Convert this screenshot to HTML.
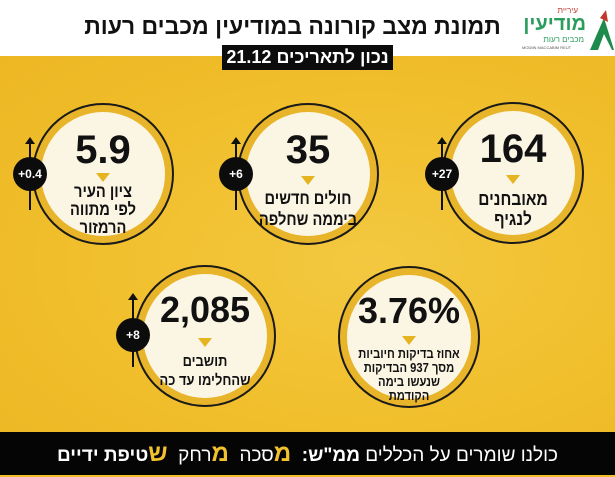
<!DOCTYPE html>
<html lang="he"><head><meta charset="utf-8">
<style>
*{margin:0;padding:0;box-sizing:border-box}
body{width:615px;height:475px;overflow:hidden;position:relative;background:#f1bf2c;font-family:"Liberation Sans","Noto Sans CJK SC",sans-serif}
.abs{position:absolute}
#hdr{left:0;top:0;width:615px;height:56px;background:#fff}
#bg{left:0;top:56px;width:615px;height:376px;background:radial-gradient(ellipse at 60% 55%,#f3c840 0%,#f1bf2c 55%,#ecb723 100%)}
.title{left:80px;top:13px;width:425px;text-align:center;font-size:23px;font-weight:bold;color:#111;direction:rtl;white-space:nowrap}
.pill{left:222px;top:45px;width:171px;height:25px;background:#0c0c0c;color:#fff;font-size:18px;font-weight:bold;text-align:center;line-height:25px;direction:rtl;white-space:nowrap}
.circ{position:absolute;width:142px;height:142px;border-radius:50%;border:2px solid #1a1a1a;background:#e8b52a}
.circ .in{position:absolute;left:7px;top:7px;width:124px;height:124px;border-radius:50%;background:#fbf5e4}
.num{position:absolute;left:0;width:100%;text-align:center;font-weight:bold;color:#111;font-size:40px;line-height:40px;white-space:nowrap}
.tri{position:absolute;left:50%;margin-left:-7px;width:0;height:0;border-left:7px solid transparent;border-right:7px solid transparent;border-top:9px solid #e6b421}
.lbl{position:absolute;left:-20px;width:178px;text-align:center;font-weight:bold;color:#111;direction:rtl;white-space:nowrap;transform:scaleX(0.86);transform-origin:50% 0}
.badge{position:absolute;width:34px;height:34px;border-radius:50%;background:#0c0c0c;color:#fff;font-size:12px;font-weight:bold;text-align:center;line-height:34px}
.arrow{position:absolute;width:2px;background:#111}
.arrow:before{content:"";position:absolute;left:-4px;top:-6px;border-left:5px solid transparent;border-right:5px solid transparent;border-bottom:7px solid #111}
#foot{left:0;top:432px;width:615px;height:43px;background:#050505;color:#fff;text-align:center;font-size:19px;line-height:43px;direction:rtl;white-space:nowrap}
#foot b.y{color:#f1c12e;font-size:24px}
</style></head><body>
<div id="hdr" class="abs"></div>
<div id="bg" class="abs"></div>

<div class="abs" style="left:520px;top:4px;width:94px;height:50px">
  <div class="abs" style="right:36px;top:2px;font-size:8px;color:#c0392b;direction:rtl">עיריית</div>
  <div class="abs" style="right:28px;top:9px;font-size:20px;color:#2a9d5c;direction:rtl;font-weight:bold">מודיעין</div>
  <div class="abs" style="right:30px;top:31px;font-size:8px;color:#2a9d5c;direction:rtl">מכבים רעות</div>
  <div class="abs" style="left:2px;top:41px;font-size:4px;color:#555;white-space:nowrap">MODIIN MACCABIM REUT</div>
  <svg class="abs" style="left:66px;top:6px" width="28" height="42"><polygon points="4,40 18,8 28,40" fill="#1e8a4c"/><polygon points="14,8 20,0 22,12" fill="#c0392b"/><polygon points="18,24 26,40 12,40" fill="#fff"/></svg>
</div>

<div class="abs title">תמונת מצב קורונה במודיעין מכבים רעות</div>
<div class="abs pill">נכון לתאריכים <span dir="ltr">21.12</span></div>

<div class="circ" style="left:442px;top:102px"><div class="in"></div>
 <div class="num" style="top:25px">164</div>
 <div class="tri" style="top:71px"></div>
 <div class="lbl" style="top:85px;font-size:18px;line-height:20px">מאובחנים<br>לנגיף</div>
</div>
<div class="arrow" style="left:441px;top:143px;height:67px"></div>
<div class="badge" style="left:425px;top:157px">+27</div>

<div class="circ" style="left:237px;top:103px"><div class="in"></div>
 <div class="num" style="top:25px">35</div>
 <div class="tri" style="top:71px"></div>
 <div class="lbl" style="top:83px;font-size:17px;line-height:21px">חולים חדשים<br>ביממה שחלפה</div>
</div>
<div class="arrow" style="left:235px;top:143px;height:67px"></div>
<div class="badge" style="left:219px;top:157px">+6</div>

<div class="circ" style="left:32px;top:103px"><div class="in"></div>
 <div class="num" style="top:25px">5.9</div>
 <div class="tri" style="top:68px"></div>
 <div class="lbl" style="top:78px;font-size:17px;line-height:18px">ציון העיר<br>לפי מתווה<br>הרמזור</div>
</div>
<div class="arrow" style="left:29px;top:143px;height:67px"></div>
<div class="badge" style="left:13px;top:157px">+0.4</div>

<div class="circ" style="left:338px;top:266px"><div class="in"></div>
 <div class="num" style="top:23px;font-size:36px">3.76%</div>
 <div class="tri" style="top:68px"></div>
 <div class="lbl" style="top:79px;font-size:13px;line-height:14px">אחוז בדיקות חיוביות<br>מסך 937 הבדיקות<br>שנעשו בימה<br>הקודמת</div>
</div>

<div class="circ" style="left:134px;top:265px"><div class="in"></div>
 <div class="num" style="top:23px;font-size:36px">2,085</div>
 <div class="tri" style="top:71px"></div>
 <div class="lbl" style="top:85px;font-size:15px;line-height:19px">תושבים<br>שהחלימו עד כה</div>
</div>
<div class="arrow" style="left:132px;top:299px;height:68px"></div>
<div class="badge" style="left:116px;top:318px">+8</div>

<div id="foot" class="abs">כולנו שומרים על הכללים <b>ממ"ש:</b> &nbsp;<b class="y">מ</b>סכה &nbsp;<b class="y">מ</b>רחק &nbsp;<b class="y">ש</b><b>טיפת ידיים</b></div>
</body></html>
